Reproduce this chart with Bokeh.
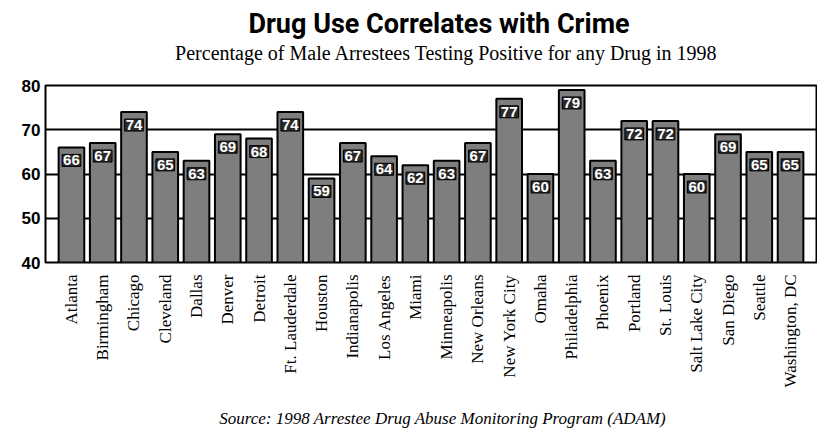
from math import pi
from bokeh.plotting import figure
from bokeh.layouts import column
from bokeh.models import FactorRange, Range1d, FixedTicker, ColumnDataSource
from bokeh.embed import file_html
from bokeh.resources import INLINE
from bokeh.core.properties import value

cities = ["Atlanta", "Birmingham", "Chicago", "Cleveland", "Dallas", "Denver", "Detroit",
          "Ft. Lauderdale", "Houston", "Indianapolis", "Los Angeles", "Miami", "Minneapolis",
          "New Orleans", "New York City", "Omaha", "Philadelphia", "Phoenix", "Portland",
          "St. Louis", "Salt Lake City", "San Diego", "Seattle", "Washington, DC"]
pct = [66, 67, 74, 65, 63, 69, 68, 74, 59, 67, 64, 62, 63, 67, 77, 60, 79, 63, 72, 72, 60, 69, 65, 65]
y_ticks = [40, 50, 60, 70, 80]
grid_vals = [50, 60, 70]

title_text = "Drug Use Correlates with Crime"
subtitle_text = "Percentage of Male Arrestees Testing Positive for any Drug in 1998"
source_text = "Source: 1998 Arrestee Drug Abuse Monitoring Program (ADAM)"

W = 817
HEAD_H, MAIN_H, FOOT_H = 75, 322, 32


def text_panel(h):
    f = figure(width=W, height=h, x_range=Range1d(0, W), y_range=Range1d(0, h),
               x_axis_type=None, y_axis_type=None, min_border=0,
               output_backend="svg", toolbar_location=None)
    f.grid.visible = False
    f.outline_line_color = None
    f.background_fill_color = "white"
    f.border_fill_color = "white"
    return f


# header: title + subtitle
head = text_panel(HEAD_H)
head.text(x=[417], y=[52], text=[title_text], text_align="center",
          text_baseline="alphabetic", text_font=value("Roboto"), text_font_style="bold",
          text_font_size="27px", text_color="black")
head.text(x=[425], y=[23], text=[subtitle_text], text_align="center",
          text_baseline="alphabetic", text_font=value("Liberation Serif"),
          text_font_size="20px", text_color="black")

# main chart
src = ColumnDataSource(dict(city=cities, pct=pct, lbl=[str(v) for v in pct]))
p = figure(x_range=FactorRange(factors=cities, range_padding=0.33, range_padding_units="absolute"),
           y_range=(40, 80), width=W, height=MAIN_H,
           min_border_left=45, min_border_right=1, min_border_top=10, min_border_bottom=135,
           output_backend="svg", toolbar_location=None, title=None)

p.vbar(x="city", top="pct", bottom=40, width=0.82, fill_color="#7e7e7e",
       line_color="black", line_width=2, source=src)

p.text(x="city", y="pct", text="lbl", y_offset=13, text_align="center", text_baseline="middle",
       text_color="white", text_font=value("Liberation Sans"), text_font_style="bold",
       text_font_size="15px", background_fill_color="#2a2a2a", border_line_color="black",
       padding=1, source=src)

p.xgrid.grid_line_color = None
p.ygrid.ticker = FixedTicker(ticks=grid_vals)
p.ygrid.grid_line_color = "black"
p.ygrid.grid_line_width = 2
p.outline_line_color = "black"
p.outline_line_width = 2
p.outline_line_alpha = 1

p.yaxis.ticker = FixedTicker(ticks=y_ticks)
p.yaxis.major_label_text_font_size = "17px"
p.yaxis.major_label_text_font = "Liberation Sans"
p.yaxis.major_label_text_font_style = "bold"
p.yaxis.major_label_text_color = "black"
p.yaxis.major_tick_line_color = None
p.yaxis.major_tick_out = 0
p.yaxis.major_tick_in = 0
p.yaxis.minor_tick_line_color = None
p.yaxis.axis_line_color = None
p.yaxis.major_label_standoff = 5

p.xaxis.major_label_orientation = pi / 2
p.xaxis.major_label_text_font = "Liberation Serif"
p.xaxis.major_label_text_font_size = "17px"
p.xaxis.major_label_text_color = "black"
p.xaxis.major_tick_line_color = None
p.xaxis.major_tick_out = 0
p.xaxis.major_tick_in = 0
p.xaxis.axis_line_color = None
p.xaxis.major_label_standoff = 12

p.background_fill_color = "white"
p.border_fill_color = "white"

# footer: source
foot = text_panel(FOOT_H)
foot.text(x=[421], y=[11], text=[source_text], text_align="center",
          text_baseline="alphabetic", text_font=value("Liberation Serif"),
          text_font_style="italic", text_font_size="17px", text_color="black")

layout = column(head, p, foot, spacing=0)

open("out.html", "w").write(file_html(layout, INLINE))
